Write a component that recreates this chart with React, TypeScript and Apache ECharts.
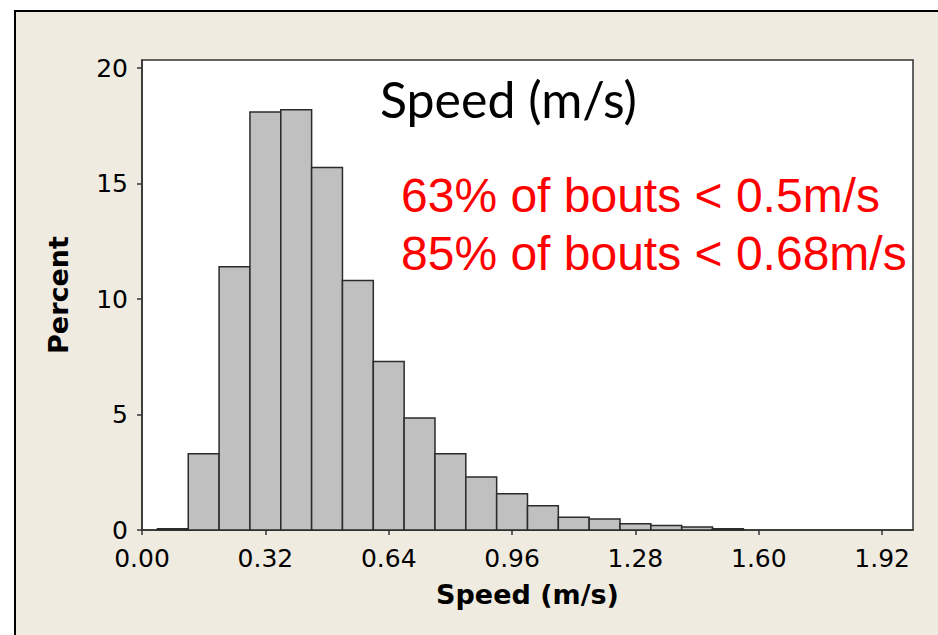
import React, { useEffect, useRef } from "react";
import * as echarts from "echarts";

// Histogram bins (centre of each bin, m/s) and percent of bouts in each bin
const binCenters = [0.08, 0.16, 0.24, 0.32, 0.4, 0.48, 0.56, 0.64, 0.72, 0.8, 0.88, 0.96, 1.04, 1.12, 1.2, 1.28, 1.36, 1.44, 1.52];
const percents = [0.05, 3.3, 11.4, 18.1, 18.2, 15.7, 10.8, 7.3, 4.85, 3.3, 2.3, 1.57, 1.05, 0.55, 0.48, 0.27, 0.19, 0.13, 0.05];
const binWidth = 0.08;

const xTicks = [0, 0.32, 0.64, 0.96, 1.28, 1.6, 1.92];
const yTicks = [0, 5, 10, 15, 20];

const titleText = "Speed (m/s)";
const noteLines = ["63% of bouts < 0.5m/s", "85% of bouts < 0.68m/s"];
const xName = "Speed (m/s)";
const yName = "Percent";

export default function App() {
  const ref = useRef<HTMLDivElement>(null);
  useEffect(() => {
    document.body.style.margin = "0";
    if (!ref.current) return;
    const chart = echarts.init(ref.current, null, { renderer: "svg" });
    const axisFont = "DejaVu Sans";
    chart.setOption({
      animation: false,
      backgroundColor: "#ffffff",
      grid: {
        left: 142,
        top: 60,
        right: 25,
        bottom: 105,
        show: true,
        backgroundColor: "#ffffff",
        borderColor: "#333333",
        borderWidth: 1.5,
      },
      xAxis: {
        type: "value",
        min: 0,
        max: 2.0,
        interval: 0.32,
        name: xName,
        nameLocation: "middle",
        nameGap: 51,
        nameTextStyle: { fontFamily: axisFont, fontWeight: "bold", fontSize: 27, color: "#000" },
        axisLine: { show: true, onZero: false, lineStyle: { color: "#333", width: 1.5 } },
        axisTick: { show: true, inside: false, length: 5, customValues: xTicks, lineStyle: { color: "#333", width: 1.5 } },
        axisLabel: {
          show: true,
          margin: 16,
          customValues: xTicks,
          fontFamily: axisFont,
          fontSize: 25,
          color: "#000",
          formatter: (v: number) => v.toFixed(2),
        },
        splitLine: { show: false },
      },
      yAxis: {
        type: "value",
        min: 0,
        max: 20.35,
        interval: 5,
        name: yName,
        nameLocation: "middle",
        nameGap: 70,
        nameRotate: 90,
        nameTextStyle: { fontFamily: axisFont, fontWeight: "bold", fontSize: 27, color: "#000" },
        axisLine: { show: true, lineStyle: { color: "#333", width: 1.5 } },
        axisTick: { show: true, inside: false, length: 5, customValues: yTicks, lineStyle: { color: "#333", width: 1.5 } },
        axisLabel: {
          show: true,
          margin: 14,
          customValues: yTicks,
          fontFamily: axisFont,
          fontSize: 25,
          color: "#000",
        },
        splitLine: { show: false },
      },
      graphic: [
        {
          type: "rect",
          z: -10,
          silent: true,
          shape: { x: 15, y: 11, width: 1000, height: 800 },
          style: { fill: "#efebe1", stroke: "#000", lineWidth: 2 },
        },
        {
          type: "text",
          z: 10,
          x: 380,
          y: 99,
          style: { text: titleText, fontFamily: "Lato", fontSize: 50, fill: "#000", textVerticalAlign: "middle" },
        },
        {
          type: "text",
          z: 10,
          x: 401,
          y: 195,
          style: { text: noteLines[0], fontFamily: "Liberation Sans", fontSize: 48, fill: "#ff0000", textVerticalAlign: "middle" },
        },
        {
          type: "text",
          z: 10,
          x: 401,
          y: 253,
          style: { text: noteLines[1], fontFamily: "Liberation Sans", fontSize: 48, fill: "#ff0000", textVerticalAlign: "middle" },
        },
      ],
      series: [
        {
          type: "custom",
          encode: { x: 0, y: 1 },
          data: binCenters.map((c, i) => [c, percents[i]]),
          renderItem: (params: any, api: any) => {
            const x = api.value(0);
            const y = api.value(1);
            const p0 = api.coord([x - binWidth / 2, y]);
            const p1 = api.coord([x + binWidth / 2, 0]);
            return {
              type: "rect",
              shape: { x: p0[0], y: p0[1], width: p1[0] - p0[0], height: p1[1] - p0[1] },
              style: { fill: "#c0c0c0", stroke: "#2b2b2b", lineWidth: 1.5 },
            };
          },
        },
      ],
    });
    return () => chart.dispose();
  }, []);
  return <div ref={ref} style={{ width: 938, height: 635 }} />;
}
